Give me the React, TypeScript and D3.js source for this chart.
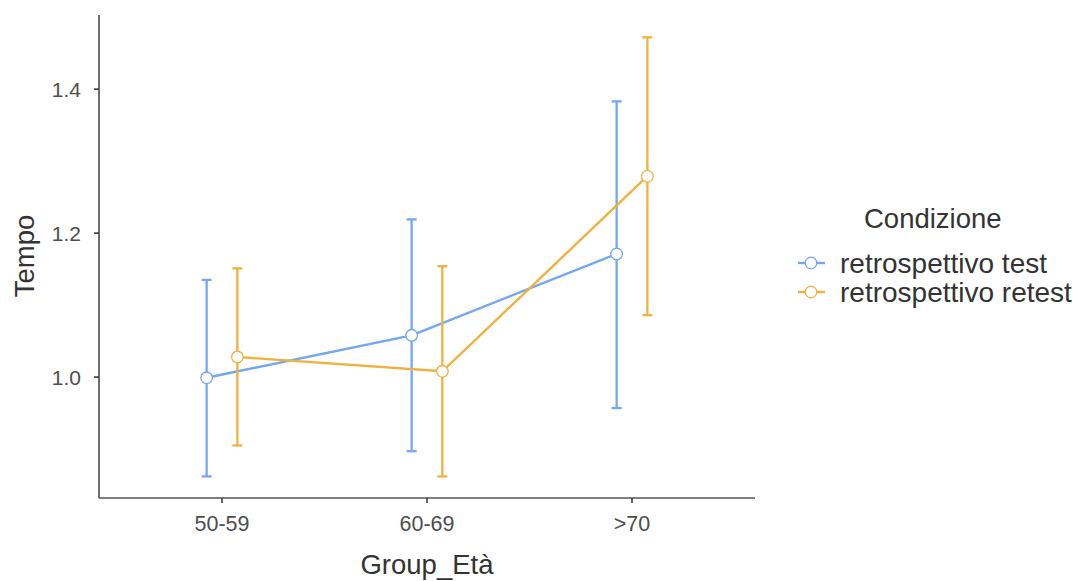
import React from 'react';
import * as d3 from 'd3';

const width = 1078;
const height = 581;
const margin = { top: 15, right: 323, bottom: 83, left: 99 };

const groups = ['50-59', '60-69', '>70'];
const seriesNames = ['retrospettivo test', 'retrospettivo retest'];
const colors = ['#72a8ef', '#f0b13e'];

const testMean = [0.999, 1.058, 1.171];
const testLow = [0.862, 0.897, 0.957];
const testHigh = [1.135, 1.219, 1.383];

const retestMean = [1.028, 1.008, 1.279];
const retestLow = [0.905, 0.862, 1.086];
const retestHigh = [1.151, 1.154, 1.472];

const yTicks = [1.0, 1.2, 1.4];

const series = [
  { name: seriesNames[0], mean: testMean, low: testLow, high: testHigh, color: colors[0], dodge: -0.075 },
  { name: seriesNames[1], mean: retestMean, low: retestLow, high: retestHigh, color: colors[1], dodge: 0.075 }
];

const font = '"Liberation Sans", Arial, sans-serif';

export default function App() {
  const x = d3
    .scaleLinear()
    .domain([0.4, groups.length + 0.6])
    .range([margin.left, width - margin.right]);
  const y = d3
    .scaleLinear()
    .domain([0.832, 1.503])
    .range([height - margin.bottom, margin.top]);

  const capHalf = 5;

  return (
    <svg width={width} height={height} style={{ position: 'absolute', left: 0, top: 0, fontFamily: font }}>
      <rect width={width} height={height} fill="#fff" />
      {series.map(s => {
        const px = (i: number) => x(i + 1 + s.dodge);
        const line = d3
          .line<number>()
          .x((d, i) => px(i))
          .y(d => y(d));
        return (
          <g key={s.name}>
            {s.mean.map((m, i) => (
              <g key={i} stroke={s.color} strokeWidth={2.3}>
                <line x1={px(i)} x2={px(i)} y1={y(s.low[i])} y2={y(s.high[i])} />
                <line x1={px(i) - capHalf} x2={px(i) + capHalf} y1={y(s.low[i])} y2={y(s.low[i])} />
                <line x1={px(i) - capHalf} x2={px(i) + capHalf} y1={y(s.high[i])} y2={y(s.high[i])} />
              </g>
            ))}
            <path d={line(s.mean) || ''} fill="none" stroke={s.color} strokeWidth={2.4} />
            {s.mean.map((m, i) => (
              <circle key={i} cx={px(i)} cy={y(m)} r={5.8} fill="#fff" stroke={s.color} strokeWidth={1.3} />
            ))}
          </g>
        );
      })}

      {/* axes */}
      <line x1={margin.left} x2={margin.left} y1={margin.top} y2={height - margin.bottom} stroke="#555" strokeWidth={1.7} />
      <line x1={margin.left} x2={width - margin.right} y1={height - margin.bottom} y2={height - margin.bottom} stroke="#555" strokeWidth={1.7} />
      {yTicks.map(t => (
        <g key={t}>
          <line x1={margin.left - 5} x2={margin.left} y1={y(t)} y2={y(t)} stroke="#333" strokeWidth={1.5} />
          <text x={margin.left - 18} y={y(t)} dy="0.36em" textAnchor="end" fontSize={21} fill="#4d4d4d">
            {d3.format('.1f')(t)}
          </text>
        </g>
      ))}
      {groups.map((g, i) => (
        <g key={g}>
          <line x1={x(i + 1)} x2={x(i + 1)} y1={height - margin.bottom} y2={height - margin.bottom + 5} stroke="#333" strokeWidth={1.5} />
          <text x={x(i + 1)} y={531} textAnchor="middle" fontSize={21.5} fill="#4d4d4d">
            {g}
          </text>
        </g>
      ))}
      <text x={427} y={574} textAnchor="middle" fontSize={27.5} fill="#333">
        Group_Età
      </text>
      <text transform={`translate(34, 256) rotate(-90)`} textAnchor="middle" fontSize={27.5} fill="#333">
        Tempo
      </text>

      {/* legend */}
      <text x={864} y={228} fontSize={27.5} fill="#333">
        Condizione
      </text>
      {series.map((s, i) => {
        const ly = 263 + i * 29;
        return (
          <g key={s.name}>
            <line x1={798} x2={825} y1={ly} y2={ly} stroke={s.color} strokeWidth={2.4} />
            <circle cx={811} cy={ly} r={5.8} fill="#fff" stroke={s.color} strokeWidth={1.3} />
            <text x={840} y={ly} dy="0.36em" fontSize={28} fill="#333">
              {s.name}
            </text>
          </g>
        );
      })}
    </svg>
  );
}
